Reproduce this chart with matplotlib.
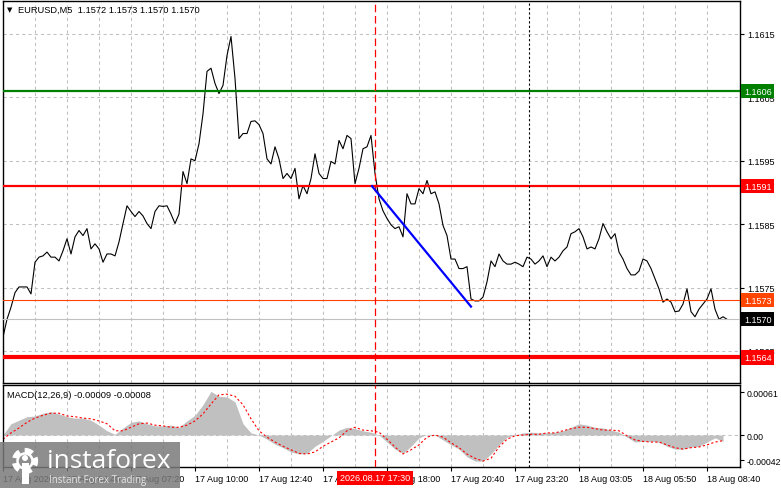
import numpy as np
import matplotlib
matplotlib.use('Agg')
import matplotlib.pyplot as plt
from matplotlib.transforms import blended_transform_factory
from matplotlib.patches import Rectangle, Circle

plt.rcParams['font.family'] = ['Liberation Sans', 'DejaVu Sans']

# ---------------- data (EURUSD M5, one value per 10 minutes) ----------------
close = [
    1.15672, 1.15700, 1.15719, 1.15742, 1.15751, 1.15751, 1.15751, 1.15740, 1.15790, 1.15798,
    1.15800, 1.15806, 1.15798, 1.15798, 1.15792, 1.15808, 1.15827, 1.15803, 1.15830, 1.15840,
    1.15832, 1.15843, 1.15811, 1.15819, 1.15811, 1.15790, 1.15803, 1.15803, 1.15800, 1.15822,
    1.15851, 1.15879, 1.15870, 1.15862, 1.15870, 1.15863, 1.15851, 1.15843, 1.15870, 1.15879,
    1.15878, 1.15879, 1.15866, 1.15851, 1.15866, 1.15933, 1.15914, 1.15953, 1.15950, 1.15977,
    1.16024, 1.16091, 1.16096, 1.16072, 1.16056, 1.16069, 1.16116, 1.16146, 1.16080, 1.15985,
    1.15993, 1.15993, 1.16012, 1.16013, 1.16007, 1.15993, 1.15953, 1.15945, 1.15972, 1.15953,
    1.15922, 1.15930, 1.15922, 1.15938, 1.15890, 1.15911, 1.15898, 1.15922, 1.15961, 1.15930,
    1.15922, 1.15922, 1.15949, 1.15945, 1.15982, 1.15969, 1.15990, 1.15985, 1.15914, 1.15938,
    1.15969, 1.15972, 1.15990, 1.15930, 1.15890, 1.15871, 1.15859, 1.15849, 1.15843, 1.15846,
    1.15830, 1.15898, 1.15882, 1.15882, 1.15906, 1.15898, 1.15919, 1.15898, 1.15901, 1.15882,
    1.15848, 1.15832, 1.15795, 1.15795, 1.15780, 1.15780, 1.15783, 1.15732, 1.15729, 1.15729,
    1.15735, 1.15759, 1.15792, 1.15783, 1.15803, 1.15792, 1.15787, 1.15787, 1.15790, 1.15787,
    1.15783, 1.15798, 1.15795, 1.15787, 1.15792, 1.15800, 1.15783, 1.15798, 1.15792, 1.15798,
    1.15808, 1.15814, 1.15835, 1.15838, 1.15843, 1.15830, 1.15811, 1.15814, 1.15811, 1.15827,
    1.15851, 1.15838, 1.15827, 1.15835, 1.15806, 1.15795, 1.15780, 1.15770, 1.15770, 1.15776,
    1.15795, 1.15792, 1.15780, 1.15764, 1.15748, 1.15727, 1.15732, 1.15727, 1.15712, 1.15713,
    1.15724, 1.15748, 1.15712, 1.15704, 1.15716, 1.15724, 1.15732, 1.15748, 1.15716, 1.15700,
    1.15704, 1.15700,
]

# MACD(12,26,9), one value per 20 minutes
macd_hist = [
    0.0, 0.00016, 0.00021, 0.00026, 0.00027, 0.00031, 0.00033, 0.00030, 0.00026, 0.00024,
    0.00024, 0.00021, 0.00014, 0.00006, 0.00001, 0.00010, 0.00018, 0.00020, 0.00016, 0.00013,
    0.00013, 0.00014, 0.00011, 0.00020, 0.00028, 0.00043, 0.00062, 0.00055, 0.00054, 0.00047,
    0.00016, 0.00003, 0.0, -0.00006, -0.00013, -0.00018, -0.00024, -0.00027, -0.00026, -0.00016,
    -0.00009, -0.00001, 0.00007, 0.00011, 0.00009, 0.00006, 0.00004, 0.0, -0.00010, -0.00020,
    -0.00026, -0.00016, -0.00004, 0.00001, 0.0, -0.00007, -0.00014, -0.00020, -0.00031, -0.00037,
    -0.00037, -0.00027, -0.00014, -0.00003, 0.0, 0.00003, 0.00004, 0.00003, 0.00003, 0.00004,
    0.00006, 0.00011, 0.00016, 0.00014, 0.00011, 0.00010, 0.00007, 0.00004, -0.00003, -0.00010,
    -0.00009, -0.00009, -0.00010, -0.00016, -0.00020, -0.00020, -0.00017, -0.00016, -0.00010, -0.00004,
    -0.00009,
]
macd_signal = [
    -0.00006, 0.00003, 0.00010, 0.00018, 0.00024, 0.00028, 0.00031, 0.00031, 0.00027, 0.00026,
    0.00024, 0.00023, 0.00020, 0.00016, 0.00006, 0.00006, 0.00011, 0.00016, 0.00017, 0.00014,
    0.00013, 0.00011, 0.00011, 0.00014, 0.00020, 0.00030, 0.00044, 0.00057, 0.00058, 0.00055,
    0.00043, 0.00023, 0.00006, -0.00003, -0.00010, -0.00016, -0.00021, -0.00026, -0.00027, -0.00024,
    -0.00016, -0.00010, -0.00004, 0.00006, 0.00011, 0.00007, 0.00006, 0.00004, -0.00006, -0.00017,
    -0.00027, -0.00021, -0.00014, -0.00003, 0.0, -0.00003, -0.00011, -0.00018, -0.00027, -0.00033,
    -0.00037, -0.00033, -0.00017, -0.00006, -0.00001, 0.0, 0.00001, 0.00001, 0.00003, 0.00003,
    0.00006, 0.00009, 0.00011, 0.00011, 0.00009, 0.00007, 0.00007, 0.00006, -0.00001, -0.00007,
    -0.00009, -0.00010, -0.00010, -0.00014, -0.00018, -0.00020, -0.00018, -0.00017, -0.00014, -0.00010,
    -0.00008,
]

price_ticks = [1.1565, 1.1575, 1.1585, 1.1595, 1.1605, 1.1615]
price_tick_labels = ["1.1565", "1.1575", "1.1585", "1.1595", "1.1605", "1.1615"]

time_labels = ["17 Aug 2026", "17 Aug 04:40", "17 Aug 07:20", "17 Aug 10:00",
               "17 Aug 12:40", "17 Aug 15:20", "17 Aug 18:00", "17 Aug 20:40",
               "17 Aug 23:20", "18 Aug 03:05", "18 Aug 05:50", "18 Aug 08:40"]
time_label_step = 16          # samples between labels (2h40m)

level_prices = [1.1606, 1.1591, 1.1573, 1.1570, 1.1564]
level_labels = ["1.1606", "1.1591", "1.1573", "1.1570", "1.1564"]
level_colors = ["#008000", "#FF0000", "#FF4500", "#C0C0C0", "#FF0000"]
level_box_colors = ["#008000", "#FF0000", "#FF4500", "#000000", "#FF0000"]
level_widths = [1.6, 1.6, 0.8, 0.8, 3.0]

trend_x = [92.25, 117.0]
trend_p = [1.1591, 1.1572]

cursor_x = 93.0               # 2026.08.17 17:30
cursor_label = "2026.08.17 17:30"
session_x = 131.5             # dotted separator

macd_tick_pos = [0.00061, 0.0, -0.000355]
macd_tick_labels = ["0.00061", "0.00", "-0.00042"]

header = "EURUSD,M5  1.1572 1.1573 1.1570 1.1570"
macd_header = "MACD(12,26,9) -0.00009 -0.00008"

# ---------------- figure ----------------
W, H = 781, 489
fig = plt.figure(figsize=(W / 100, H / 100), dpi=100)
fig.patch.set_facecolor("white")

left = 2.5 / W
width = (740 - 2.5) / W
ax = fig.add_axes([left, 1 - 384 / H, width, (384 - 2) / H])
ax2 = fig.add_axes([left, 1 - 468 / H, width, (468 - 386) / H])

xlim = (-0.125, 184.25)
grid_kw = dict(color="#C0C0C0", linestyle=(0, (3, 3)), linewidth=0.75, zorder=0)

# --- main panel ---
kx = np.arange(len(close))
ax.set_xlim(*xlim)
ax.set_ylim(1.155995, 1.16202)
for g in np.arange(8, 184, 8):
    ax.axvline(g, **grid_kw)
for p in price_ticks:
    ax.axhline(p, **grid_kw)
ax.plot(kx, close, color="black", linewidth=0.8, zorder=2)
for p, c, lw in zip(level_prices, level_colors, level_widths):
    ax.axhline(p, color=c, linewidth=lw, zorder=3)
ax.plot(trend_x, trend_p, color="#0000FF", linewidth=1.6, zorder=4)
ax.axvline(cursor_x, color="#FF0000", linestyle=(0, (6, 3)), linewidth=0.9, zorder=3)
ax.axvline(session_x, color="black", linestyle=(0, (2, 2)), linewidth=0.8, zorder=3)

ax.set_xticks([])
ax.yaxis.tick_right()
ax.set_yticks(price_ticks)
ax.set_yticklabels(price_tick_labels)
ax.tick_params(axis="y", length=3, width=0.8, pad=2.0, labelsize=6.5, direction="out")
for s in ax.spines.values():
    s.set_linewidth(1.0)

tr = blended_transform_factory(fig.transFigure, ax.transData)
for p, lab, bc in zip(level_prices, level_labels, level_box_colors):
    ax.text(744 / W, p, lab, transform=tr, ha="left", va="center", fontsize=6.5,
            color="white", clip_on=False, zorder=6,
            bbox=dict(boxstyle="square,pad=0.3", fc=bc, ec="none"))

# --- MACD panel ---
mx = np.arange(len(macd_hist)) * 2
ax2.set_xlim(*xlim)
ax2.set_ylim(-0.000454, 0.00071)
for g in np.arange(8, 184, 8):
    ax2.axvline(g, **grid_kw)
ax2.axhline(0, **grid_kw)
ax2.fill_between(mx, macd_hist, 0, color="#C0C0C0", linewidth=0, zorder=1)
ax2.plot(mx, macd_signal, color="#FF0000", linestyle=(0, (2, 2)), linewidth=0.8, zorder=2)
ax2.axvline(cursor_x, color="#FF0000", linestyle=(0, (6, 3)), linewidth=0.9, zorder=3)
ax2.axvline(session_x, color="black", linestyle=(0, (2, 2)), linewidth=0.8, zorder=3)

ax2.yaxis.tick_right()
ax2.set_yticks(macd_tick_pos)
ax2.set_yticklabels(macd_tick_labels)
ax2.tick_params(axis="y", length=3, width=0.8, pad=1.5, labelsize=6.3, direction="out")
tpos = np.arange(len(time_labels)) * time_label_step
ax2.set_xticks(tpos)
ax2.set_xticklabels(time_labels)
ax2.tick_params(axis="x", length=3, width=0.8, pad=2.0, labelsize=6.5, direction="out")
for t in ax2.get_xticklabels():
    t.set_horizontalalignment("left")
for s in ax2.spines.values():
    s.set_linewidth(1.0)

# --- texts ---
fig.text(7 / W, 1 - 10 / H, "\u25BC", fontsize=5, va="center", ha="left",
         family=["DejaVu Sans"])
fig.text(18 / W, 1 - 10 / H, header, fontsize=6.7, va="center", ha="left")
fig.text(7 / W, 1 - 396 / H, macd_header, fontsize=6.7, va="center", ha="left")

cur_tr = blended_transform_factory(ax2.transData, fig.transFigure)
ax2.text(cursor_x, 1 - 479 / H, cursor_label, transform=cur_tr, ha="center", va="center",
         fontsize=6.5, color="white", clip_on=False, zorder=10,
         bbox=dict(boxstyle="square,pad=0.3", fc="#FF0000", ec="none"))

# --- watermark overlay ---
ov = fig.add_axes([0, 0, 1, 1], zorder=10)
ov.set_xlim(0, W)
ov.set_ylim(H, 0)
ov.axis("off")
ov.patch.set_alpha(0)
ov.add_patch(Rectangle((0, 443), 180, 46, fc="#7a7a7a", ec="none", alpha=0.85))
ov.add_patch(Circle((25, 462), 10, fill=False, ec="white", lw=4.5,
                    linestyle=(0, (1.2, 0.8))))
ov.add_patch(Circle((25, 462), 7.5, fill=False, ec="white", lw=1.8))
ov.add_patch(Circle((25, 459), 3, fc="white", ec="none"))
ov.add_patch(Rectangle((21.5, 464), 7, 21, fc="white", ec="none"))
ov.text(47, 462, "instaforex", fontsize=19, color="white", va="center", ha="left",
        family=["Open Sans", "DejaVu Sans"])
ov.text(49, 480, "Instant Forex Trading", fontsize=7, color="#e6e6e6", va="center",
        ha="left", family=["Open Sans", "DejaVu Sans"])

fig.savefig("out.png", dpi=100)
